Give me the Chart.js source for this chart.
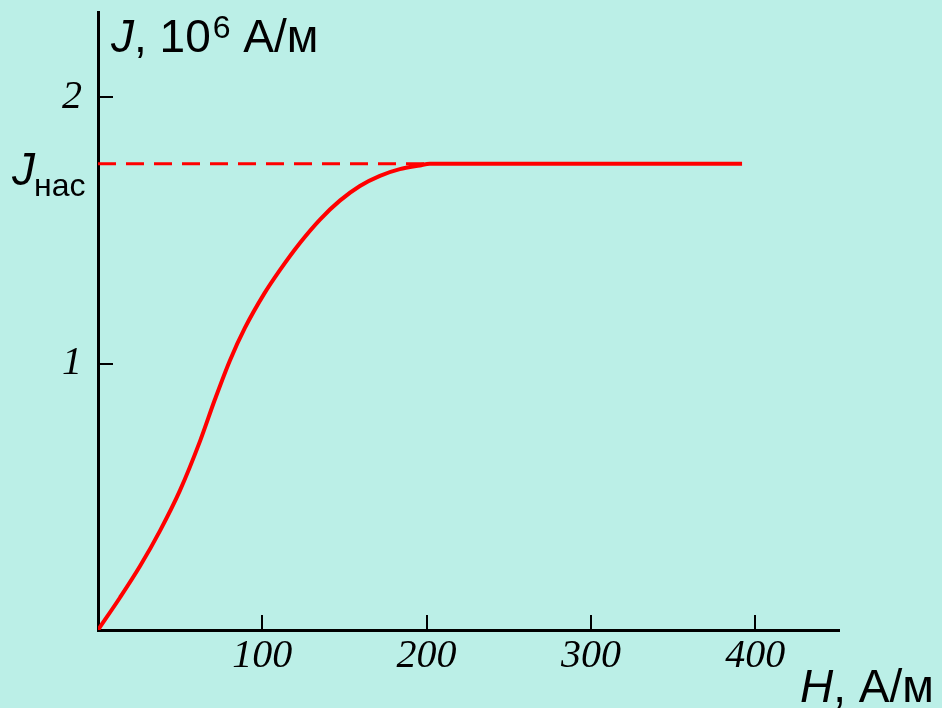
<!DOCTYPE html>
<html>
<head>
<meta charset="utf-8">
<script src="https://cdn.jsdelivr.net/npm/chart.js@4.4.0/dist/chart.umd.min.js"></script>
<style>
  html, body { margin: 0; padding: 0; background: #bbefe7; }
</style>
</head>
<body>
<canvas id="myChart" width="942" height="708"></canvas>
<script>
// magnetization curve J(H)
const fieldH = [0, 13.4, 25.6, 37.7, 49.9, 62.1, 71.2, 80.3, 89.4, 101, 110.7, 122.9, 135.1, 147.2, 159.4, 171.6, 183.7, 195.9, 202, 392];
const magnJ  = [0, 0.122, 0.240, 0.372, 0.524, 0.709, 0.866, 1.012, 1.134, 1.261, 1.351, 1.453, 1.541, 1.612, 1.667, 1.705, 1.730, 1.744, 1.75, 1.75];
const satJ = 1.75;
const satH = [0, 202];
const xTicks = [100, 200, 300, 400];
const yTicks = [1, 2];

const bg = '#bbefe7';

// inward tick marks + texts that are not plain tick labels
const extras = {
  id: 'extras',
  beforeDraw(chart) {
    const c = chart.ctx;
    c.save();
    c.fillStyle = bg;
    c.fillRect(0, 0, chart.width, chart.height);
    c.restore();
  },
  afterDraw(chart) {
    const c = chart.ctx;
    const xs = chart.scales.x, ys = chart.scales.y;
    const a = chart.chartArea;
    c.save();
    c.strokeStyle = '#000';
    c.lineWidth = 2;
    xTicks.forEach(v => {
      const px = Math.round(xs.getPixelForValue(v));
      c.beginPath(); c.moveTo(px, a.bottom); c.lineTo(px, a.bottom - 15); c.stroke();
    });
    yTicks.forEach(v => {
      const py = Math.round(ys.getPixelForValue(v));
      c.beginPath(); c.moveTo(a.left, py); c.lineTo(a.left + 15, py); c.stroke();
    });

    c.fillStyle = '#000';
    c.textBaseline = 'alphabetic';
    c.textAlign = 'left';
    const sans = '"Liberation Sans", Arial, sans-serif';
    // y title
    let x = 111;
    c.font = 'italic 46px ' + sans;
    c.fillText('J', x, 52); x += c.measureText('J').width;
    c.font = '46px ' + sans;
    c.fillText(', 10', x, 52); x += c.measureText(', 10').width;
    c.font = '32px ' + sans;
    c.fillText('6', x + 2, 38); x += c.measureText('6').width + 2;
    c.font = '46px ' + sans;
    c.fillText(' А/м', x, 52);

    // x title
    x = 800;
    c.font = 'italic 46px ' + sans;
    c.fillText('H', x, 702); x += c.measureText('H').width;
    c.font = '46px ' + sans;
    c.fillText(', А/м', x, 702);

    // J_нас at saturation level
    const ps = ys.getPixelForValue(satJ);
    c.font = 'italic 46px ' + sans;
    c.fillText('J', 12, ps + 21);
    c.font = '32px ' + sans;
    c.fillText('нас', 34, ps + 32);
    c.restore();
  }
};

const noPad = s => { s.paddingTop = 0; s.paddingBottom = 0; s.paddingLeft = 0; s.paddingRight = 0; };

const ctx = document.getElementById('myChart');

new Chart(ctx, {
  type: 'line',
  data: {
    datasets: [{
      data: fieldH.map((h, i) => ({x: h, y: magnJ[i]})),
      borderColor: '#ff0000',
      borderWidth: 4,
      pointRadius: 0,
      cubicInterpolationMode: 'monotone',
      order: 1
    }, {
      data: satH.map(h => ({x: h, y: satJ})),
      borderColor: '#ff0000',
      borderWidth: 3,
      borderDash: [18, 10],
      pointRadius: 0,
      order: 2
    }]
  },
  options: {
    responsive: false,
    animation: false,
    devicePixelRatio: 1,
    layout: { padding: { left: 0, top: 12, right: 103, bottom: 0 } },
    plugins: { legend: { display: false }, tooltip: { enabled: false } },
    scales: {
      x: {
        type: 'linear',
        min: 0,
        max: 451,
        afterBuildTicks: s => { s.ticks = xTicks.map(v => ({value: v})); },
        afterFit: s => { s.height = 78; noPad(s); },
        grid: { display: false, drawTicks: false },
        border: { display: true, color: '#000', width: 3 },
        ticks: {
          padding: 2,
          color: '#000',
          font: { family: '"Liberation Serif", "Times New Roman", serif', style: 'italic', size: 40 },
          maxRotation: 0
        }
      },
      y: {
        type: 'linear',
        min: 0,
        max: 2.32,
        afterBuildTicks: s => { s.ticks = yTicks.map(v => ({value: v})); },
        afterFit: s => { s.width = 98; noPad(s); },
        grid: { display: false, drawTicks: false },
        border: { display: true, color: '#000', width: 3 },
        ticks: {
          padding: 16,
          color: '#000',
          font: { family: '"Liberation Serif", "Times New Roman", serif', style: 'italic', size: 40 }
        }
      }
    }
  },
  plugins: [extras]
});
</script>
</body>
</html>
